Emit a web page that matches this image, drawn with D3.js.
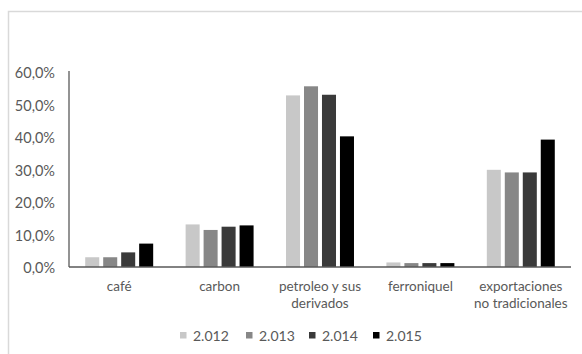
<!DOCTYPE html>
<html>
<head>
<meta charset="utf-8">
<script src="https://cdn.jsdelivr.net/npm/d3@7"></script>
<style>
  html, body { margin: 0; padding: 0; background: #fff; }
  svg text { font-family: Lato, "Open Sans", sans-serif; fill: #595959; }
</style>
</head>
<body>
<svg id="chart" width="582" height="354"></svg>
<script>
// Export shares by product, per year
const categories = [["café"], ["carbon"], ["petroleo y sus", "derivados"], ["ferroniquel"], ["exportaciones", "no tradicionales"]];
const years = ["2.012", "2.013", "2.014", "2.015"];
const v2012 = [3.0, 13.1, 52.8, 1.4, 29.9];
const v2013 = [3.0, 11.4, 55.6, 1.2, 29.1];
const v2014 = [4.5, 12.4, 53.0, 1.2, 29.1];
const v2015 = [7.2, 12.8, 40.2, 1.2, 39.2];
const yTicks = [0, 10, 20, 30, 40, 50, 60];
const colors = ["#c8c8c8", "#878787", "#3a3a3a", "#000000"];

const series = [v2012, v2013, v2014, v2015];
const catKeys = categories.map(c => c.join(" "));

const svg = d3.select("#chart");

// outer frame
svg.append("rect")
  .attr("x", 8.5).attr("y", 11.5)
  .attr("width", 600).attr("height", 400)
  .attr("fill", "none").attr("stroke", "#d9d9d9").attr("stroke-width", 1.5);

const plotLeft = 69, plotRight = 571, plotTop = 72, plotBottom = 267;

const x0 = d3.scaleBand().domain(catKeys).range([plotLeft, plotRight])
  .paddingInner(0.323).paddingOuter(0.1615);
const x1 = d3.scaleBand().domain(years).range([0, x0.bandwidth()]).paddingInner(0.22);
const y = d3.scaleLinear().domain([0, 60]).range([plotBottom, plotTop]);

// y axis labels
const yAxis = d3.axisLeft(y).tickValues(yTicks)
  .tickFormat(d => d.toFixed(1).replace(".", ",") + "%")
  .tickSize(0).tickPadding(14);
const gy = svg.append("g").attr("transform", `translate(${plotLeft},0)`).call(yAxis);
gy.select(".domain").remove();
gy.selectAll("text").attr("font-size", 14.5).attr("dy", "0.4em")
  .style("font-family", "Lato, sans-serif").attr("fill", "#595959");

// bars
const groups = svg.append("g").selectAll("g")
  .data(catKeys)
  .join("g")
  .attr("transform", d => `translate(${x0(d)},0)`);

groups.selectAll("rect")
  .data((d, i) => years.map((yr, j) => ({ yr, v: series[j][i], j })))
  .join("rect")
  .attr("x", d => x1(d.yr))
  .attr("y", d => y(d.v))
  .attr("width", x1.bandwidth())
  .attr("height", d => plotBottom - y(d.v))
  .attr("fill", d => colors[d.j]);

// axis lines
svg.append("line").attr("x1", plotLeft).attr("x2", plotLeft).attr("y1", plotTop - 1).attr("y2", plotBottom)
  .attr("stroke", "#595959").attr("stroke-width", 1.3);
svg.append("line").attr("x1", plotLeft).attr("x2", plotRight).attr("y1", plotBottom).attr("y2", plotBottom)
  .attr("stroke", "#595959").attr("stroke-width", 1.3);

// category labels
categories.forEach((lines, i) => {
  const cx = x0(catKeys[i]) + x0.bandwidth() / 2;
  const t = svg.append("text").attr("text-anchor", "middle").attr("font-size", 13.5);
  lines.forEach((ln, k) => {
    t.append("tspan").attr("x", cx).attr("y", 291 + k * 17).text(ln);
  });
});

// legend
const legendX = [180, 246, 309, 373];
const leg = svg.append("g").selectAll("g").data(years).join("g")
  .attr("transform", (d, i) => `translate(${legendX[i]},332)`);
leg.append("rect").attr("width", 6.5).attr("height", 6.5).attr("fill", (d, i) => colors[i]);
leg.append("text").attr("x", 13).attr("y", 8.5).attr("font-size", 14).text(d => d);
</script>
</body>
</html>
